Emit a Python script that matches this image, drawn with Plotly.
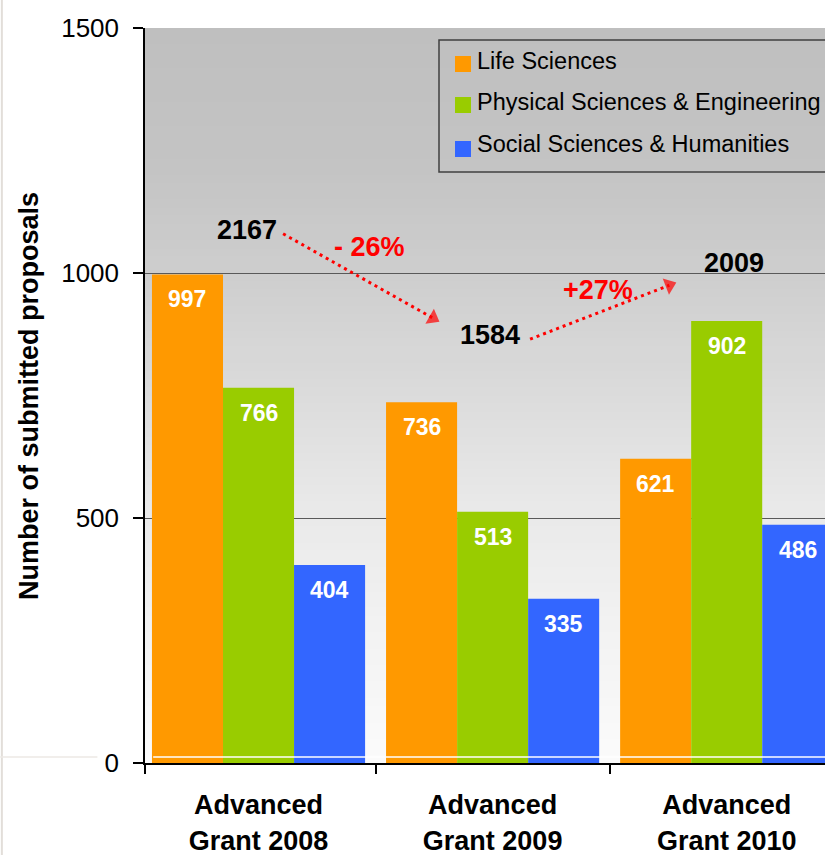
import plotly.graph_objects as go

# ---------------- data ----------------
categories = ["Advanced<br>Grant 2008", "Advanced<br>Grant 2009", "Advanced<br>Grant 2010"]
series_names = ["Life Sciences", "Physical Sciences & Engineering", "Social Sciences & Humanities"]
life_sciences = [997, 736, 621]
physical_sciences = [766, 513, 902]
social_sciences = [404, 335, 486]
change_labels = ["- 26%", "+27%"]
y_ticks = [0, 500, 1000, 1500]

series_values = [life_sciences, physical_sciences, social_sciences]
totals = [sum(v) for v in zip(*series_values)]

# ---------------- style ----------------
colors = ["#FF9900", "#99CC00", "#3366FF"]
FONT = "Liberation Sans, Arial, sans-serif"
W, H = 825, 855
ML, MR, MT, MB = 145, 0, 28, 92
X_MIN, X_MAX = -0.485, 2.42
BAR_W = 0.3035
OFFSETS = [-1.5 * BAR_W, -0.5 * BAR_W, 0.5 * BAR_W]

# annotation placement (layout, in axis units)
total_pos = [(-0.05, 1088), (0.99, 873), (2.03, 1020)]
change_pos = [(0.476, 1053), (1.451, 965)]
arrows = [((0.105, 1080), (0.745, 908)), ((1.16, 865), (1.755, 975))]

xs = list(range(len(categories)))

fig = go.Figure()

# bars
for i, (name, vals) in enumerate(zip(series_names, series_values)):
    fig.add_trace(go.Bar(
        x=xs, y=vals, name=name, width=BAR_W, offset=OFFSETS[i],
        marker=dict(color=colors[i], line=dict(width=0)),
        showlegend=False, hoverinfo="x+y+name",
    ))

# dotted arrows
for (p0, p1) in arrows:
    fig.add_trace(go.Scatter(
        x=[p0[0], p1[0]], y=[p0[1], p1[1]], mode="lines+markers",
        line=dict(color="#FF0000", width=3, dash="3px,4px"),
        marker=dict(symbol=["circle", "triangle-up"], size=[0, 15],
                    color="#FF0000", angleref="previous", line=dict(width=0)),
        showlegend=False, hoverinfo="skip",
    ))

shapes = []
# background gradient
stops = [(0.0, 191), (0.193, 196), (0.335, 206), (0.506, 220), (0.667, 234), (0.833, 243), (1.0, 251)]
def gray_at(t):
    for (t0, g0), (t1, g1) in zip(stops[:-1], stops[1:]):
        if t0 <= t <= t1:
            return g0 + (g1 - g0) * (t - t0) / (t1 - t0)
    return stops[-1][1]
N = 90
for k in range(N):
    t = (k + 0.5) / N
    g = int(round(gray_at(t)))
    shapes.append(dict(type="rect", xref="x domain", yref="y domain",
                       x0=0, x1=1, y0=1 - (k + 1) / N - 0.002, y1=1 - k / N,
                       fillcolor=f"rgb({g},{g},{g})", line=dict(width=0), layer="below"))

# thin white line near the base
shapes.append(dict(type="line", xref="paper", yref="y", x0=0.012, x1=1, y0=12, y1=12,
                   line=dict(color="white", width=1.5), layer="above"))
# faint page-edge lines
shapes.append(dict(type="line", xref="paper", yref="paper", x0=-0.2105, x1=-0.2105, y0=-0.2, y1=1.1,
                   line=dict(color="#E2DED9", width=2)))
shapes.append(dict(type="line", xref="paper", yref="y", x0=-0.213, x1=-0.07, y0=12, y1=12,
                   line=dict(color="#ECE9E5", width=1.5)))

# legend (manual)
leg_x0 = (439 - ML) / (W - ML - MR)
shapes.append(dict(type="rect", xref="paper", yref="paper", x0=leg_x0, x1=1.08,
                   y0=(763 - 172) / 735, y1=(763 - 40) / 735,
                   line=dict(color="#404040", width=1.5), fillcolor="rgba(0,0,0,0)"))
leg_sq_y = [64, 105, 149]
leg_txt_y = [61, 102, 144]
annotations = []
for i, name in enumerate(series_names):
    yc = (763 - leg_sq_y[i]) / 735
    shapes.append(dict(type="rect", xref="paper", yref="paper",
                       x0=(455 - ML) / 680, x1=(471 - ML) / 680,
                       y0=yc - 8 / 735, y1=yc + 8 / 735,
                       fillcolor=colors[i], line=dict(width=0)))
    annotations.append(dict(xref="paper", yref="paper", x=(475 - ML) / 680,
                            y=(763 - leg_txt_y[i]) / 735, text=name, showarrow=False,
                            xanchor="left", yanchor="middle",
                            font=dict(family=FONT, size=23.5, color="black")))

# data labels inside bars
for i, vals in enumerate(series_values):
    for j, v in enumerate(vals):
        annotations.append(dict(x=xs[j] + OFFSETS[i] + BAR_W / 2, y=v, xref="x", yref="y",
                                text=f"<b>{v}</b>", showarrow=False, xanchor="center",
                                yanchor="top", yshift=-10,
                                font=dict(family=FONT, size=23, color="white")))

# totals
for (px, py), tot in zip(total_pos, totals):
    annotations.append(dict(x=px, y=py, xref="x", yref="y", text=f"<b>{tot}</b>",
                            showarrow=False, xanchor="center", yanchor="middle",
                            font=dict(family=FONT, size=27, color="black")))
# changes
for (px, py), lab in zip(change_pos, change_labels):
    annotations.append(dict(x=px, y=py, xref="x", yref="y", text=f"<b>{lab}</b>",
                            showarrow=False, xanchor="center", yanchor="middle",
                            font=dict(family=FONT, size=27, color="#FF0000")))

# y title
annotations.append(dict(xref="paper", yref="paper", x=(29 - ML) / 680, y=(763 - 396) / 735,
                        text="<b>Number of submitted proposals</b>", textangle=-90,
                        showarrow=False, xanchor="center", yanchor="middle",
                        font=dict(family=FONT, size=27, color="black")))

fig.update_layout(
    width=W, height=H,
    margin=dict(l=ML, r=MR, t=MT, b=MB, pad=0, autoexpand=False),
    paper_bgcolor="white", plot_bgcolor="white",
    barmode="overlay",
    shapes=shapes, annotations=annotations,
    font=dict(family=FONT, color="black"),
    showlegend=False,
)
fig.update_xaxes(
    range=[X_MIN, X_MAX], tickmode="array", tickvals=xs, ticktext=[f"<b>{c}</b>" for c in categories],
    ticks="", showgrid=False, zeroline=False, automargin=False,
    showline=True, linecolor="black", linewidth=2,
    tickfont=dict(family=FONT, size=27, color="black"), ticklabelstandoff=17,
    minor=dict(tickvals=[X_MIN, 0.5, 1.5], ticks="outside", ticklen=9, tickcolor="black",
               tickwidth=1.5, showgrid=False),
)
fig.update_yaxes(
    range=[0, 1500], tickmode="array", tickvals=y_ticks, automargin=False,
    ticks="outside", ticklen=10, tickcolor="black", tickwidth=1.5,
    showline=True, linecolor="black", linewidth=1.5,
    showgrid=True, gridcolor="#595959", gridwidth=1.3, zeroline=False,
    tickfont=dict(family=FONT, size=26, color="black"), ticklabelstandoff=9,
)

fig.write_html("out.html", config={"displayModeBar": False},
               post_script="document.body.style.margin='0';document.body.style.overflow='hidden';")
